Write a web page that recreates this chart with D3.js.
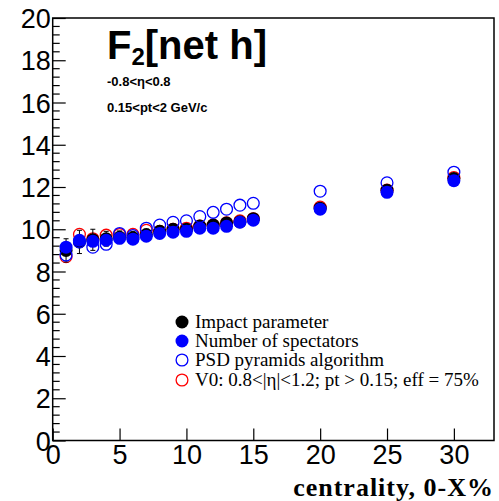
<!DOCTYPE html>
<html><head><meta charset="utf-8">
<script src="https://cdn.jsdelivr.net/npm/d3@7"></script>
<style>body{margin:0;background:#fff}svg{display:block}</style>
</head><body>
<script>
const centrality = [1,2,3,4,5,6,7,8,9,10,11,12,13,14,15,20,25,30];
const impactParam = [9.0,9.4,9.5,9.55,9.62,9.6,9.75,9.9,10.0,10.0,10.15,10.2,10.3,10.35,10.5,11.0,11.85,12.4];
const impactErr   = [0.55,0.55,0.5,0.35,0.3,0.3,0.25,0.25,0.2,0.2,0.2,0.2,0.2,0.2,0.2,0.2,0.2,0.2];
const spectators  = [9.15,9.48,9.43,9.48,9.57,9.53,9.67,9.8,9.86,9.9,10.05,10.05,10.14,10.33,10.43,10.95,11.75,12.3];
const psd         = [8.78,9.4,9.15,9.29,9.8,9.7,10.05,10.2,10.33,10.4,10.6,10.8,10.95,11.14,11.23,11.8,12.2,12.7];
const v0          = [8.7,9.76,9.55,9.72,9.75,9.76,9.95,9.9,10.0,10.05,10.15,10.2,10.3,10.4,10.5,11.05,11.85,12.45];
const xTicks = [0,5,10,15,20,25,30];
const yTicks = [0,2,4,6,8,10,12,14,16,18,20];
const legendLabels = ["Impact parameter","Number of spectators","PSD pyramids algorithm","V0: 0.8<|η|<1.2; pt > 0.15; eff = 75%"];

const W=499,H=501;
const svg=d3.select("body").append("svg").attr("width",W).attr("height",H);
const x=d3.scaleLinear().domain([0,33]).range([52.7,494]);
const y=d3.scaleLinear().domain([0,20]).range([440.5,18]);
const R=6.5;

// frame
svg.append("rect").attr("x",x(0)).attr("y",y(20)).attr("width",x(33)-x(0)).attr("height",y(0)-y(20))
  .attr("fill","none").attr("stroke","#000").attr("stroke-width",1.5);

// x ticks (inside)
const gx=svg.append("g").attr("transform",`translate(0,${y(0)})`)
  .call(d3.axisBottom(x).tickValues(xTicks).tickSize(-12).tickPadding(16).tickFormat(d3.format("d")));
gx.select(".domain").remove();
gx.selectAll("line").attr("stroke","#000").attr("stroke-width",1.2);
gx.selectAll("text").attr("font-family","Liberation Sans, Arial, sans-serif").attr("font-size",27).attr("fill","#000").attr("dy","0.71em").attr("y",4);

// y ticks
const gy=svg.append("g").attr("transform",`translate(${x(0)},0)`)
  .call(d3.axisLeft(y).tickValues(yTicks).tickSize(-13).tickPadding(16).tickFormat(d3.format("d")));
gy.select(".domain").remove();
gy.selectAll("line").attr("stroke","#000").attr("stroke-width",1.2);
gy.selectAll("text").attr("font-family","Liberation Sans, Arial, sans-serif").attr("font-size",27).attr("fill","#000").attr("x",-2).attr("dy","0.36em");
const minorY=d3.range(0,20.01,0.4).filter(v=>Math.abs(v/2-Math.round(v/2))>0.01);
svg.append("g").selectAll("line").data(minorY).join("line")
  .attr("x1",x(0)).attr("x2",x(0)+7).attr("y1",d=>y(d)).attr("y2",d=>y(d)).attr("stroke","#000").attr("stroke-width",1.2);

// data
const pts=centrality.map((c,i)=>({c,ip:impactParam[i],e:impactErr[i],sp:spectators[i],psd:psd[i],v0:v0[i]}));
// red open
svg.append("g").selectAll("circle").data(pts).join("circle")
  .attr("cx",d=>x(d.c)).attr("cy",d=>y(d.v0)).attr("r",R-0.6).attr("fill","none").attr("stroke","#ff0000").attr("stroke-width",1.3);
// black error bars + points
const eb=svg.append("g").attr("stroke","#000").attr("stroke-width",1);
pts.forEach(d=>{
  eb.append("line").attr("x1",x(d.c)).attr("x2",x(d.c)).attr("y1",y(d.ip-d.e)).attr("y2",y(d.ip+d.e));
  eb.append("line").attr("x1",x(d.c)-2.5).attr("x2",x(d.c)+2.5).attr("y1",y(d.ip-d.e)).attr("y2",y(d.ip-d.e));
  eb.append("line").attr("x1",x(d.c)-2.5).attr("x2",x(d.c)+2.5).attr("y1",y(d.ip+d.e)).attr("y2",y(d.ip+d.e));
});
svg.append("g").selectAll("circle").data(pts).join("circle")
  .attr("cx",d=>x(d.c)).attr("cy",d=>y(d.ip)).attr("r",R).attr("fill","#000");
// blue filled
svg.append("g").selectAll("circle").data(pts).join("circle")
  .attr("cx",d=>x(d.c)).attr("cy",d=>y(d.sp)).attr("r",R).attr("fill","#0000ff");
// blue open
svg.append("g").selectAll("circle").data(pts).join("circle")
  .attr("cx",d=>x(d.c)).attr("cy",d=>y(d.psd)).attr("r",R-0.6).attr("fill","none").attr("stroke","#0000ff").attr("stroke-width",1.3);

// title texts
const t=svg.append("text").attr("x",107).attr("y",59).attr("font-family","Liberation Sans, Arial, sans-serif").attr("font-weight","bold").attr("font-size",40).attr("fill","#000");
t.append("tspan").text("F");
t.append("tspan").attr("font-size",24).attr("dy",6).text("2");
t.append("tspan").attr("dy",-6).text("[net h]");
svg.append("text").attr("x",107).attr("y",86).attr("font-family","Liberation Sans, Arial, sans-serif").attr("font-weight","bold").attr("font-size",13).text("-0.8<η<0.8");
svg.append("text").attr("x",107).attr("y",112).attr("font-family","Liberation Sans, Arial, sans-serif").attr("font-weight","bold").attr("font-size",13).text("0.15<pt<2 GeV/c");

// axis title
svg.append("text").attr("x",494).attr("y",496).attr("text-anchor","end").attr("font-family","Liberation Serif, Times New Roman, serif").attr("font-weight","bold").attr("font-size",26).attr("letter-spacing",1).text("centrality, 0-X%");

// legend
const lg=svg.append("g");
const ly=[322,341,360,380];
const lstyles=[{fill:"#000",stroke:"none"},{fill:"#0000ff",stroke:"none"},{fill:"none",stroke:"#0000ff"},{fill:"none",stroke:"#ff0000"}];
legendLabels.forEach((lab,i)=>{
  const r = lstyles[i].fill==="none"?R-0.6:R;
  lg.append("circle").attr("cx",182).attr("cy",ly[i]).attr("r",r).attr("fill",lstyles[i].fill).attr("stroke",lstyles[i].stroke).attr("stroke-width",1.3);
  lg.append("text").attr("x",195).attr("y",ly[i]+6).attr("font-family","Liberation Serif, Times New Roman, serif").attr("font-size",19).attr("fill","#000").text(lab);
});
</script>
</body></html>
